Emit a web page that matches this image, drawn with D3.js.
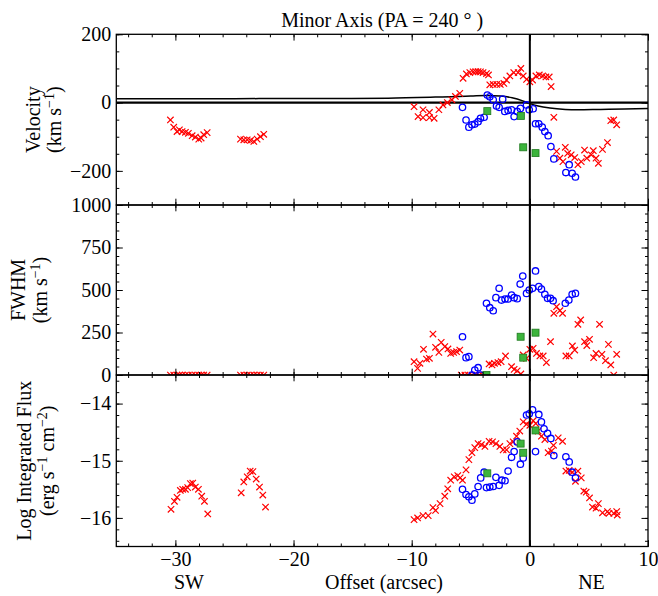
<!DOCTYPE html>
<html><head><meta charset="utf-8">
<script src="https://cdn.jsdelivr.net/npm/d3@7/dist/d3.min.js"></script>
<style>
body{margin:0;background:#fff}
svg text{font-family:'Liberation Serif','Times New Roman',Times,'DejaVu Serif',serif !important;fill:#000}
</style>
</head><body>
<svg id="c" width="658" height="596" font-family="Liberation Serif, Times New Roman, serif"></svg>
<script>
// ---------- DATA ----------
const xMajorTicks = [-30,-20,-10,0,10];
const velTicks = [-200,0,200];
const fwhmTicks = [0,250,500,750,1000];
const fluxTicks = [-16,-15,-14];

// model curve in velocity panel [offset, velocity]
const velModel = [[-35,11],[-25,11.5],[-17,12],[-12,13],[-8,16],[-5,19],[-3.7,21],[-2.5,19],[-1.5,14],[-0.6,5],[0,-3],[0.7,-10],[1.7,-16],[3,-20],[4,-21],[6,-20],[8,-19],[10,-17]];

const velRed = [[-30.42,-51],[-30.14,-72],[-29.86,-85],[-29.66,-80],[-29.43,-85],[-29.15,-87],[-28.9,-90],[-28.58,-97],[-28.31,-101],[-28.02,-107],[-27.82,-104],[-27.6,-94],[-27.31,-88],
[-24.49,-107],[-24.21,-109],[-23.92,-109],[-23.64,-111],[-23.36,-114],[-23.08,-107],[-22.8,-100],[-22.52,-93],
[-9.8,-12],[-9.46,-41],[-9.04,-21],[-9.04,-44],[-8.5,-29],[-8.5,-44],[-8.1,-46],[-7.7,-21],[-7.35,-7],[-6.98,0],[-6.6,8],[-6.3,18],[-5.93,27],[-5.65,71],[-5.37,84],[-5.08,88],[-4.8,90],[-4.58,91],[-4.38,91],[-4.18,90],[-3.96,88],[-3.67,85],[-3.5,81],[-3.39,52],[-3.1,53],[-2.8,53],[-2.5,53],[-2.2,56],[-1.97,66],[-1.69,78],[-1.36,88],[-0.99,88],[-0.76,100],[-0.56,78],[-0.28,68],[0,61],[0.23,66],[0.51,78],[0.8,81],[1.08,78],[1.36,75],[1.64,75],[1.8,47],[2.03,-43],[2.26,-143],[2.54,-163],[2.8,-173],[3.0,-131],[3.2,-149],[3.5,-153],[3.8,-161],[4.07,-182],[4.35,-173],[4.63,-139],[4.82,-163],[5.2,-153],[5.37,-141],[5.6,-163],[5.8,-178],[6.15,-137],[6.57,-117],[6.85,-53],[7.1,-51],[7.35,-65]];
const velBlue = [[-5.7,-14],[-5.4,-51],[-5.16,-72],[-4.9,-65],[-4.66,-63],[-4.38,-56],[-4.18,-46],[-3.87,-43],[-3.6,22],[-3.39,17],[-3.1,8],[-2.82,-10],[-2.6,-14],[-2.3,10],[-2.12,-26],[-1.84,-23],[-1.55,-21],[-1.33,-41],[-1.07,-26],[-0.8,-17],[-0.28,-7],[-0.05,-21],[0.28,-18],[0.48,-62],[0.76,-62],[1.05,-72],[1.27,-85],[1.55,-97],[1.78,-129],[2.03,-165],[3.05,-205],[3.33,-182],[3.58,-207],[3.86,-218]];
const velGreen = [[-3.6,-25],[-0.76,-39],[-0.56,-131],[0.48,-148]];

const fwhmRed = [[-30.42,0],[-30.14,0],[-29.86,0],[-29.66,0],[-29.43,0],[-29.15,0],[-28.9,0],[-28.58,0],[-28.31,0],[-28.02,0],[-27.82,0],[-27.6,0],[-27.31,0],
[-24.49,0],[-24.21,0],[-23.92,0],[-23.64,0],[-23.36,0],[-23.08,0],[-22.8,0],[-22.52,0],
[-9.8,78],[-9.5,39],[-9.3,69],[-9.0,151],[-8.75,94],[-8.5,98],[-8.2,241],[-7.98,163],[-7.7,133],[-7.5,192],[-7.2,167],[-6.93,153],[-6.7,127],[-6.45,133],[-6.2,137],[-5.93,147],
[-5.8,0],[-5.5,0],[-5.2,0],[-4.9,0],[-4.6,0],[-4.3,0],[-4.0,0],[-3.7,0],
[-3.45,65],[-3.2,59],[-2.99,69],[-2.7,73],[-2.43,78],[-2.06,112],[-1.55,49],[-1.33,33],[-1.07,25],[-0.76,6],[-0.56,118],[-0.28,98],[0,151],[0.28,157],[0.56,127],[0.85,112],[1.13,112],[1.4,73],[1.75,196],[2.03,363],[2.26,402],[2.54,378],[2.77,363],[3.05,112],[3.33,112],[3.6,171],[3.8,147],[4.07,298],[4.3,324],[4.63,196],[4.82,173],[5.05,210],[5.4,102],[5.6,127],[5.9,298],[6.1,122],[6.4,84],[6.65,180],[6.85,59],[7.1,0],[7.35,122]];
const fwhmBlue = [[-5.7,225],[-5.4,102],[-5.16,108],[-4.9,0],[-4.66,29],[-4.38,43],[-4.16,0],[-3.67,422],[-3.39,396],[-3.1,378],[-2.87,455],[-2.6,510],[-2.4,441],[-2.1,447],[-1.84,447],[-1.55,470],[-1.33,455],[-1.07,449],[-0.82,535],[-0.6,582],[-0.28,480],[-0.05,500],[0.23,510],[0.48,612],[0.76,520],[0.98,505],[1.27,475],[1.5,451],[1.75,451],[1.97,437],[3.0,422],[3.3,441],[3.58,475],[3.86,480]];
const fwhmGreen = [[-3.67,0],[-0.78,225],[-0.56,102],[0.48,249]];

const fluxRed = [[-30.37,-15.85],[-30.08,-15.71],[-29.86,-15.64],[-29.58,-15.52],[-29.38,-15.5],[-29.15,-15.5],[-28.96,-15.47],[-28.73,-15.4],[-28.53,-15.39],[-28.31,-15.46],[-28.05,-15.5],[-27.77,-15.62],[-27.54,-15.71],[-27.26,-15.93],
[-24.43,-15.56],[-24.21,-15.37],[-23.92,-15.28],[-23.67,-15.18],[-23.44,-15.19],[-23.16,-15.32],[-22.88,-15.46],[-22.6,-15.6],[-22.37,-15.81],
[-9.8,-16.03],[-9.5,-16.0],[-9.04,-15.96],[-8.6,-15.96],[-8.2,-15.82],[-7.98,-15.87],[-7.6,-15.75],[-7.2,-15.62],[-6.95,-15.49],[-6.7,-15.34],[-6.4,-15.28],[-6.1,-15.26],[-5.9,-15.3],[-5.7,-15.34],[-5.4,-15.16],[-5.16,-14.98],[-4.9,-14.86],[-4.66,-14.77],[-4.38,-14.7],[-4.1,-14.72],[-3.8,-14.75],[-3.45,-14.66],[-3.16,-14.67],[-2.87,-14.7],[-2.54,-14.75],[-2.26,-14.81],[-1.97,-14.81],[-1.69,-14.7],[-1.41,-14.67],[-1.13,-14.57],[-0.85,-14.48],[-0.56,-14.32],[-0.28,-14.36],[0,-14.38],[0.28,-14.3],[0.5,-14.35],[0.7,-14.48],[0.98,-14.57],[1.27,-14.63],[1.55,-14.86],[1.83,-14.83],[2.0,-14.73],[2.4,-14.6],[2.77,-14.66],[3.05,-15.18],[3.33,-15.17],[3.6,-15.2],[3.86,-15.36],[4.07,-15.18],[4.35,-15.3],[4.57,-15.53],[4.77,-15.55],[5.05,-15.65],[5.3,-15.81],[5.6,-15.83],[5.8,-15.75],[6.15,-15.91],[6.57,-15.89],[6.7,-15.92],[7.1,-15.92],[7.35,-15.89],[7.4,-15.95]];
const fluxBlue = [[-5.7,-15.5],[-5.4,-15.59],[-5.16,-15.63],[-4.9,-15.69],[-4.66,-15.58],[-4.38,-15.45],[-4.16,-15.3],[-3.87,-15.2],[-3.67,-15.47],[-3.39,-15.46],[-3.1,-15.45],[-2.87,-15.29],[-2.6,-15.43],[-2.37,-15.34],[-2.1,-15.35],[-1.84,-15.18],[-1.55,-14.94],[-1.33,-14.84],[-1.07,-14.67],[-0.8,-15.06],[-0.56,-14.95],[-0.28,-14.2],[-0.05,-14.18],[0.23,-14.11],[0.48,-14.84],[0.76,-14.19],[0.98,-14.32],[1.2,-14.44],[1.5,-14.52],[1.78,-14.61],[2.03,-14.91],[3.05,-14.93],[3.33,-15.02],[3.58,-15.2],[3.86,-15.3]];
const fluxGreen = [[-3.6,-15.22],[-0.78,-14.7],[-0.56,-14.86],[0.48,-14.47]];

// ---------- LAYOUT ----------
const FONT = "'Liberation Serif','Times New Roman',Times,'DejaVu Serif',serif";
const FS = 20;
const svg = d3.select("#c");
const L = 116.3, R = 648;
const x = d3.scaleLinear().domain([-35,10]).range([L,R]);

const panels = [
  {id:"p1", domain:[-300,200], range:[205,34.3], major:velTicks, minor:d3.range(-300,201,50), fmt:d3.format("d"),
   label:["Velocity",[["(km s",0],["−1",1],[")",0]]], lx:[40,61], red:velRed, blue:velBlue, green:velGreen},
  {id:"p2", domain:[0,1000], range:[375,205], major:fwhmTicks, minor:d3.range(0,1001,50), fmt:d3.format("d"),
   label:["FWHM",[["(km s",0],["−1",1],[")",0]]], lx:[25,47], red:fwhmRed, blue:fwhmBlue, green:fwhmGreen},
  {id:"p3", domain:[-16.5,-13.5], range:[546.5,375], major:fluxTicks, minor:d3.range(-16.4,-13.5,0.2), fmt:d3.format("d"),
   label:["Log Integrated Flux",[["(erg s",0],["−1",1],[" cm",0],["−2",1],[")",0]]], lx:[31,54], red:fluxRed, blue:fluxBlue, green:fluxGreen}
];

const defs = svg.append("defs");
const crossPath = "M-3.2,-3.2L3.2,3.2M-3.2,3.2L3.2,-3.2";

panels.forEach((p,i)=>{
  const y = d3.scaleLinear().domain(p.domain).range(p.range);
  const top = p.range[1], bot = p.range[0];
  defs.append("clipPath").attr("id","clip"+i).append("rect")
    .attr("x",L).attr("y",top).attr("width",R-L).attr("height",bot-top);
  const g = svg.append("g");
  const pg = g.append("g").attr("clip-path",`url(#clip${i})`);

  if(i===0){
    pg.append("line").attr("x1",L).attr("x2",R).attr("y1",y(0)).attr("y2",y(0))
      .attr("stroke","#000").attr("stroke-width",2.4);
    pg.append("path").datum(velModel)
      .attr("d",d3.line().x(d=>x(d[0])).y(d=>y(d[1])).curve(d3.curveMonotoneX))
      .attr("fill","none").attr("stroke","#000").attr("stroke-width",1.5);
  }

  pg.selectAll("path.cross").data(p.red).join("path").attr("class","cross")
    .attr("d",crossPath).attr("transform",d=>`translate(${x(d[0])},${y(d[1])})`)
    .attr("stroke","#ff0000").attr("stroke-width",1.2).attr("fill","none");
  pg.selectAll("circle").data(p.blue).join("circle")
    .attr("cx",d=>x(d[0])).attr("cy",d=>y(d[1])).attr("r",3.2)
    .attr("fill","none").attr("stroke","#0000ff").attr("stroke-width",1.3);
  pg.selectAll("rect.sq").data(p.green).join("rect").attr("class","sq")
    .attr("x",d=>x(d[0])-3.5).attr("y",d=>y(d[1])-3.5).attr("width",7).attr("height",7)
    .attr("fill","#3cb43c").attr("stroke","#1f7a1f").attr("stroke-width",0.8);

  const styleAxis = sel => { sel.select(".domain").remove(); sel.selectAll("line").attr("stroke","#000").attr("stroke-width",1); sel.attr("font-family",FONT).attr("font-size",FS); };
  g.append("g").attr("transform",`translate(${L},0)`)
    .call(d3.axisLeft(y).tickValues(p.minor).tickSize(-3).tickFormat(""))
    .call(styleAxis);
  g.append("g").attr("transform",`translate(${L},0)`)
    .call(d3.axisLeft(y).tickValues(p.major).tickSize(-6.5).tickPadding(5).tickFormat(p.fmt))
    .call(styleAxis);
  g.append("g").attr("transform",`translate(${R},0)`)
    .call(d3.axisRight(y).tickValues(p.minor).tickSize(-3).tickFormat(""))
    .call(styleAxis);
  g.append("g").attr("transform",`translate(${R},0)`)
    .call(d3.axisRight(y).tickValues(p.major).tickSize(-6.5).tickFormat(""))
    .call(styleAxis);
  const xMinor = d3.range(-34,10.1,2);
  [["axisTop",top],["axisBottom",bot]].forEach(([fn,yy])=>{
    g.append("g").attr("transform",`translate(0,${yy})`)
      .call(d3[fn](x).tickValues(xMinor).tickSize(-3).tickFormat(""))
      .call(styleAxis);
    const isBottomLabels = (fn==="axisBottom" && i===2);
    g.append("g").attr("transform",`translate(0,${yy})`)
      .call(d3[fn](x).tickValues(xMajorTicks).tickSize(-6.3).tickPadding(5.5).tickFormat(isBottomLabels? d3.format("d") : ""))
      .call(styleAxis);
  });

  g.append("rect").attr("x",L).attr("y",top).attr("width",R-L).attr("height",bot-top)
    .attr("fill","none").attr("stroke","#000").attr("stroke-width",1.3);

  const cy = (top+bot)/2;
  svg.append("text").attr("transform",`translate(${p.lx[0]},${cy}) rotate(-90)`)
    .attr("text-anchor","middle").attr("font-size",FS).attr("font-family",FONT).text(p.label[0]);
  const t2 = svg.append("text").attr("transform",`translate(${p.lx[1]},${cy}) rotate(-90)`)
    .attr("text-anchor","middle").attr("font-size",FS).attr("font-family",FONT);
  let prevSup = 0;
  p.label[1].forEach(([s,sup])=>{
    const ts = t2.append("tspan").text(s);
    const dy = sup ? -7 : (prevSup ? 7 : 0);
    if(dy) ts.attr("dy",dy);
    if(sup) ts.attr("font-size",14);
    prevSup = sup;
  });
});

svg.append("line").attr("x1",x(0)).attr("x2",x(0)).attr("y1",34.3).attr("y2",546.5)
  .attr("stroke","#000").attr("stroke-width",2);

svg.append("text").attr("x",(L+R)/2).attr("y",26.5).attr("text-anchor","middle")
  .attr("font-size",FS).attr("font-family",FONT).text("Minor Axis (PA = 240 ° )");

[["SW",189],["Offset (arcsec)",384],["NE",591.5]].forEach(([t,xx])=>{
  svg.append("text").attr("x",xx).attr("y",589).attr("text-anchor","middle")
    .attr("font-size",FS).attr("font-family",FONT).text(t);
});
</script>
</body></html>
